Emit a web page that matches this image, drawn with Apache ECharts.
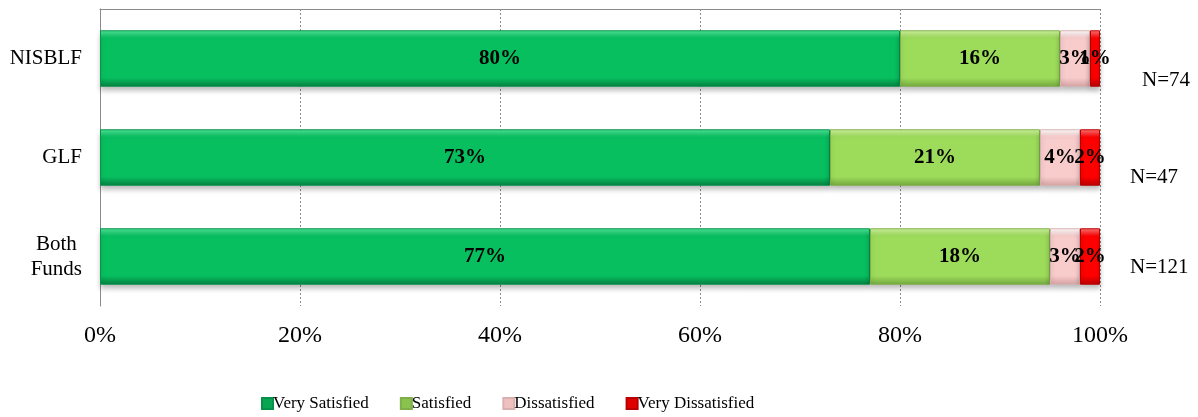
<!DOCTYPE html>
<html>
<head>
<meta charset="utf-8">
<style>
  html, body { margin: 0; padding: 0; background: #fff; }
  #chart { width: 1198px; height: 417px; }
</style>
<script src="https://cdn.jsdelivr.net/npm/echarts@6/dist/echarts.min.js"></script>
</head>
<body>
<div id="chart"></div>
<script>
// Satisfaction with the funds, share of respondents per answer
const categories = ['NISBLF', 'GLF', 'Both Funds'];
const sampleSizes = ['N=74', 'N=47', 'N=121'];
const verySatisfied = [80, 73, 77];
const satisfied = [16, 21, 18];
const dissatisfied = [3, 4, 3];
const veryDissatisfied = [1, 2, 2];
const xTicks = [0, 20, 40, 60, 80, 100];

const FONT = '"Liberation Serif", "Times New Roman", serif';

// bevelled fill: light top edge, flat middle, darker bottom edge
function bevel(top, mid, bottom) {
  return new echarts.graphic.LinearGradient(0, 0, 0, 1, [
    { offset: 0, color: top },
    { offset: 0.14, color: mid },
    { offset: 0.84, color: mid },
    { offset: 1, color: bottom }
  ]);
}

const palette = [
  { name: 'Very Satisfied', data: verySatisfied, fill: bevel('#4fe79a', '#08bf60', '#057f40'), edge: '#07914a', legend: '#0aa552' },
  { name: 'Satisfied', data: satisfied, fill: bevel('#d0f59e', '#9ddc5b', '#74a83e'), edge: '#7fae4a', legend: '#8ac24e' },
  { name: 'Dissatisfied', data: dissatisfied, fill: bevel('#ffffff', '#f9cccc', '#d4a2a2'), edge: '#d8b0b0', legend: '#f0c0c0' },
  { name: 'Very Dissatisfied', data: veryDissatisfied, fill: bevel('#ff7a7a', '#ff0000', '#b80000'), edge: '#b80000', legend: '#e00000' }
];

const series = palette.map(p => ({
  name: p.name,
  type: 'bar',
  stack: 'total',
  barWidth: '57%',
  data: p.data,
  itemStyle: {
    color: p.fill,
    borderColor: p.edge,
    borderWidth: 1,
    shadowColor: 'rgba(0,0,0,0.28)',
    shadowBlur: 5,
    shadowOffsetY: 4
  },
  label: {
    show: true,
    position: 'inside',
    formatter: d => d.value + '%',
    color: '#000',
    fontFamily: FONT,
    fontWeight: 'bold',
    fontSize: 21
  },
  emphasis: { disabled: true }
}));

const chart = echarts.init(document.getElementById('chart'));
chart.setOption({
  animation: false,
  backgroundColor: '#fff',
  grid: { left: 100, right: 98, top: 9, bottom: 111, containLabel: false },
  legend: {
    left: 256,
    top: 390,
    itemGap: 31,
    itemWidth: 11,
    itemHeight: 11,
    icon: 'rect',
    textStyle: { fontFamily: FONT, fontSize: 17, color: '#000', padding: [0, 0, 0, -5] },
    data: palette.map(p => ({ name: p.name, itemStyle: { color: p.legend } }))
  },
  xAxis: [
    {
      type: 'value',
      min: 0,
      max: 100,
      interval: 20,
      position: 'bottom',
      axisLine: { show: false },
      axisTick: { show: false },
      axisLabel: {
        margin: 18,
        fontFamily: FONT,
        fontSize: 24,
        color: '#000',
        formatter: v => (xTicks.includes(v) ? v + '%' : '')
      },
      splitLine: { show: true, lineStyle: { color: '#8a8a8a', type: [2, 2], width: 1 } }
    },
    {
      type: 'value',
      min: 0,
      max: 100,
      position: 'top',
      axisLine: { show: true, lineStyle: { color: '#8a8a8a', width: 1 } },
      axisTick: { show: false },
      axisLabel: { show: false },
      splitLine: { show: false }
    }
  ],
  yAxis: [
    {
      type: 'category',
      inverse: true,
      data: categories,
      axisLine: { show: true, lineStyle: { color: '#8a8a8a', width: 1 } },
      axisTick: { show: false },
      axisLabel: {
        margin: 18,
        color: '#000',
        fontFamily: FONT,
        fontSize: 21,
        formatter: v => v === 'Both Funds' ? '{c|Both}\n{c|Funds}' : v,
        rich: {
          c: { align: 'center', fontFamily: FONT, fontSize: 21, lineHeight: 25, color: '#000' }
        }
      }
    },
    {
      type: 'category',
      inverse: true,
      position: 'right',
      data: sampleSizes,
      axisLine: { show: false },
      axisTick: { show: false },
      axisLabel: {
        margin: 30,
        color: '#000',
        fontFamily: FONT,
        fontSize: 21,
        formatter: (v, i) => '{n' + i + '|' + v + '}',
        rich: {
          n0: { fontFamily: FONT, fontSize: 21, color: '#000', padding: [44, 0, 0, 12] },
          n1: { fontFamily: FONT, fontSize: 21, color: '#000', padding: [40, 0, 0, 0] },
          n2: { fontFamily: FONT, fontSize: 21, color: '#000', padding: [22, 0, 0, 0] }
        }
      }
    }
  ],
  series: series
});
</script>
</body>
</html>
